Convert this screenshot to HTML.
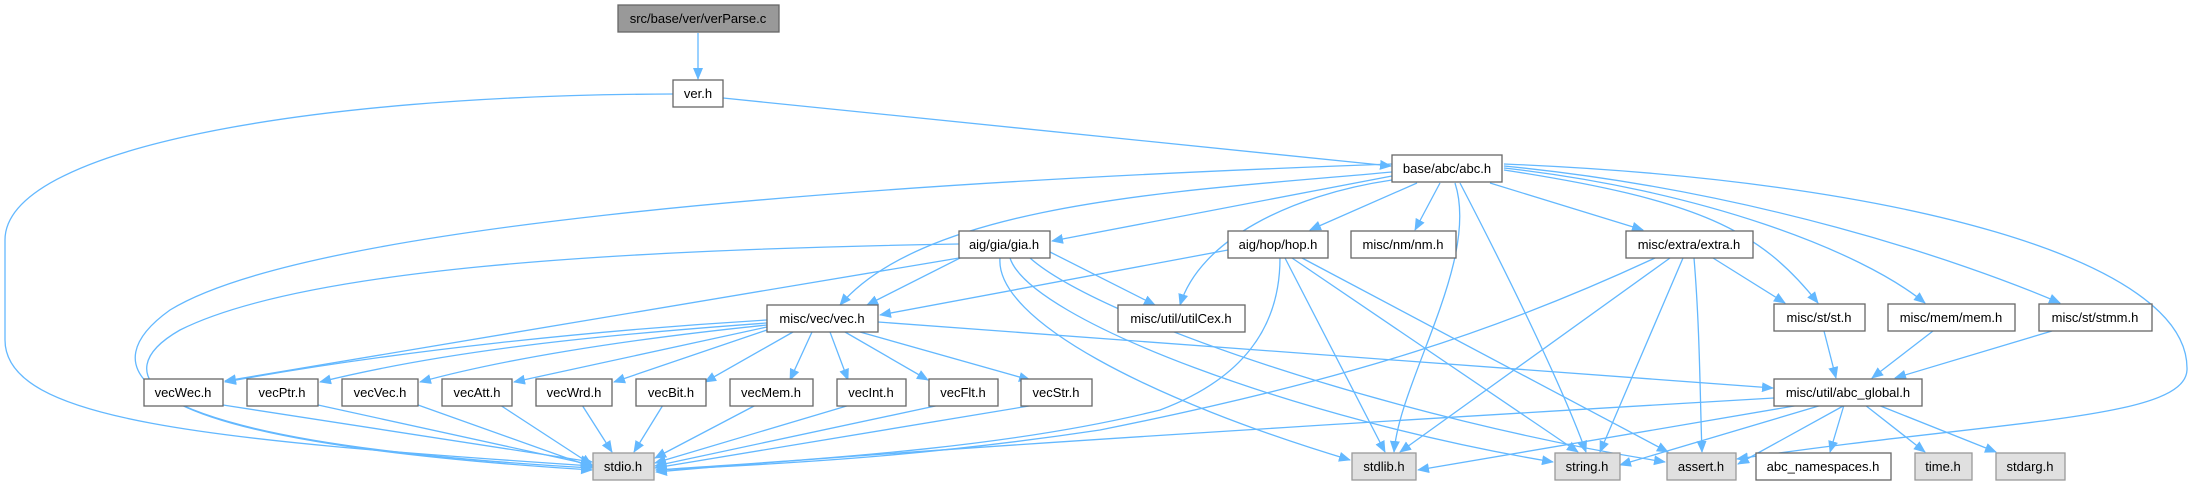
<!DOCTYPE html>
<html><head><meta charset="utf-8"><style>
html,body{margin:0;padding:0;background:#fff;}
svg{display:block;}
text{font-family:"Liberation Sans",Arial,sans-serif;font-size:13px;fill:#000;text-anchor:middle;}
.e{fill:none;stroke:#63b8ff;stroke-width:1.3;}
.n{fill:#fff;stroke:#666;stroke-width:1.3;}
.g{fill:#e0e0e0;stroke:#999;stroke-width:1.3;}
.r{fill:#999;stroke:#666;stroke-width:1.3;}
</style></head><body>
<svg width="2194" height="485" viewBox="0 0 2194 485" xmlns="http://www.w3.org/2000/svg">
<defs><marker id="a" markerWidth="12" markerHeight="10" refX="11" refY="5" orient="auto" markerUnits="userSpaceOnUse"><path d="M0,0 L12,5 L0,10 z" fill="#63b8ff"/></marker></defs>
<g class="e" marker-end="url(#a)">
<path d="M698,33 L698,79"/>
<path d="M673,94 C300,95 5,150 5,240 L5,340 C5,420 200,440 592,466"/>
<path d="M723,98 L1391,166"/>
<path d="M1392,164 C800,185 300,230 170,310 C100,360 90,440 592,468"/>
<path d="M1392,172 C1200,190 930,200 840,305"/>
<path d="M1392,176 L1052,241"/>
<path d="M1417,183 L1310,230"/>
<path d="M1440,183 L1415,230"/>
<path d="M1392,180 C1290,195 1200,240 1180,305"/>
<path d="M1455,183 C1480,260 1400,380 1394,452"/>
<path d="M1460,183 C1500,260 1560,380 1586,452"/>
<path d="M1490,183 L1643,230"/>
<path d="M1504,170 C1700,200 1760,230 1818,303"/>
<path d="M1504,168 C1700,190 1860,250 1925,303"/>
<path d="M1504,166 C1750,190 1960,260 2060,303"/>
<path d="M1504,164 C1900,180 2190,260 2187,370 C2185,420 2000,420 1737,459"/>
<path d="M959,244 C600,250 300,270 180,330 C110,370 110,440 592,470"/>
<path d="M970,253 L867,305"/>
<path d="M959,258 L225,381"/>
<path d="M1050,252 L1155,305"/>
<path d="M1000,258 C995,320 1150,400 1350,460"/>
<path d="M1010,258 C1030,320 1300,420 1553,462"/>
<path d="M1030,258 C1100,320 1400,420 1665,462"/>
<path d="M1228,250 L880,315"/>
<path d="M1280,258 C1280,330 1240,380 1160,410 C1000,450 800,460 656,470"/>
<path d="M1285,258 L1385,452"/>
<path d="M1292,258 L1578,452"/>
<path d="M1302,258 L1668,452"/>
<path d="M767,320 C600,330 400,350 225,382"/>
<path d="M767,323 C600,335 450,350 320,382"/>
<path d="M767,325 C620,340 500,360 420,382"/>
<path d="M767,327 L514,382"/>
<path d="M767,330 L614,382"/>
<path d="M793,332 L705,382"/>
<path d="M812,332 L790,380"/>
<path d="M830,332 L848,380"/>
<path d="M845,332 L928,380"/>
<path d="M860,332 L1030,380"/>
<path d="M878,322 L1773,388"/>
<path d="M223,405 L592,462"/>
<path d="M318,405 L592,465"/>
<path d="M418,405 L592,467"/>
<path d="M500,405 L592,465"/>
<path d="M582,405 L612,452"/>
<path d="M663,405 L634,452"/>
<path d="M756,405 L655,458"/>
<path d="M850,405 L655,463"/>
<path d="M940,405 L655,466"/>
<path d="M1035,405 L655,468"/>
<path d="M1655,258 C1500,330 1350,380 1100,430 C900,460 750,465 656,470"/>
<path d="M1670,258 L1400,452"/>
<path d="M1683,258 L1600,452"/>
<path d="M1694,258 C1700,330 1700,400 1702,452"/>
<path d="M1713,258 L1785,303"/>
<path d="M1824,331 L1836,378"/>
<path d="M1933,331 L1872,378"/>
<path d="M2052,331 L1895,378"/>
<path d="M1774,398 C1400,420 900,450 656,472"/>
<path d="M1800,405 L1418,470"/>
<path d="M1822,405 L1620,465"/>
<path d="M1845,405 L1738,464"/>
<path d="M1844,405 L1830,452"/>
<path d="M1865,405 L1925,452"/>
<path d="M1878,405 L1996,452"/>
</g>
<g>
<rect class="r" x="618" y="5" width="161" height="27"/><text x="698" y="23">src/base/ver/verParse.c</text>
<rect class="n" x="673" y="80" width="50" height="27"/><text x="698" y="98">ver.h</text>
<rect class="n" x="1392" y="155" width="110" height="27"/><text x="1447" y="173">base/abc/abc.h</text>
<rect class="n" x="959" y="231" width="91" height="27"/><text x="1004" y="249">aig/gia/gia.h</text>
<rect class="n" x="1228" y="231" width="100" height="27"/><text x="1278" y="249">aig/hop/hop.h</text>
<rect class="n" x="1351" y="231" width="105" height="27"/><text x="1403" y="249">misc/nm/nm.h</text>
<rect class="n" x="1626" y="231" width="127" height="27"/><text x="1689" y="249">misc/extra/extra.h</text>
<rect class="n" x="767" y="305" width="111" height="27"/><text x="822" y="323">misc/vec/vec.h</text>
<rect class="n" x="1118" y="305" width="127" height="27"/><text x="1181" y="323">misc/util/utilCex.h</text>
<rect class="n" x="1774" y="304" width="91" height="27"/><text x="1819" y="322">misc/st/st.h</text>
<rect class="n" x="1888" y="304" width="127" height="27"/><text x="1951" y="322">misc/mem/mem.h</text>
<rect class="n" x="2039" y="304" width="113" height="27"/><text x="2095" y="322">misc/st/stmm.h</text>
<rect class="n" x="144" y="379" width="79" height="27"/><text x="183" y="397">vecWec.h</text>
<rect class="n" x="247" y="379" width="71" height="27"/><text x="282" y="397">vecPtr.h</text>
<rect class="n" x="342" y="379" width="76" height="27"/><text x="380" y="397">vecVec.h</text>
<rect class="n" x="442" y="379" width="70" height="27"/><text x="477" y="397">vecAtt.h</text>
<rect class="n" x="536" y="379" width="76" height="27"/><text x="574" y="397">vecWrd.h</text>
<rect class="n" x="636" y="379" width="70" height="27"/><text x="671" y="397">vecBit.h</text>
<rect class="n" x="730" y="379" width="83" height="27"/><text x="771" y="397">vecMem.h</text>
<rect class="n" x="837" y="379" width="69" height="27"/><text x="871" y="397">vecInt.h</text>
<rect class="n" x="929" y="379" width="69" height="27"/><text x="963" y="397">vecFlt.h</text>
<rect class="n" x="1021" y="379" width="71" height="27"/><text x="1056" y="397">vecStr.h</text>
<rect class="n" x="1774" y="379" width="148" height="27"/><text x="1848" y="397">misc/util/abc_global.h</text>
<rect class="g" x="593" y="453" width="61" height="27"/><text x="623" y="471">stdio.h</text>
<rect class="g" x="1352" y="453" width="64" height="27"/><text x="1384" y="471">stdlib.h</text>
<rect class="g" x="1555" y="453" width="65" height="27"/><text x="1587" y="471">string.h</text>
<rect class="g" x="1667" y="453" width="69" height="27"/><text x="1701" y="471">assert.h</text>
<rect class="n" x="1756" y="453" width="135" height="27"/><text x="1823" y="471">abc_namespaces.h</text>
<rect class="g" x="1915" y="453" width="57" height="27"/><text x="1943" y="471">time.h</text>
<rect class="g" x="1996" y="453" width="69" height="27"/><text x="2030" y="471">stdarg.h</text>
</g>
</svg>
</body></html>
